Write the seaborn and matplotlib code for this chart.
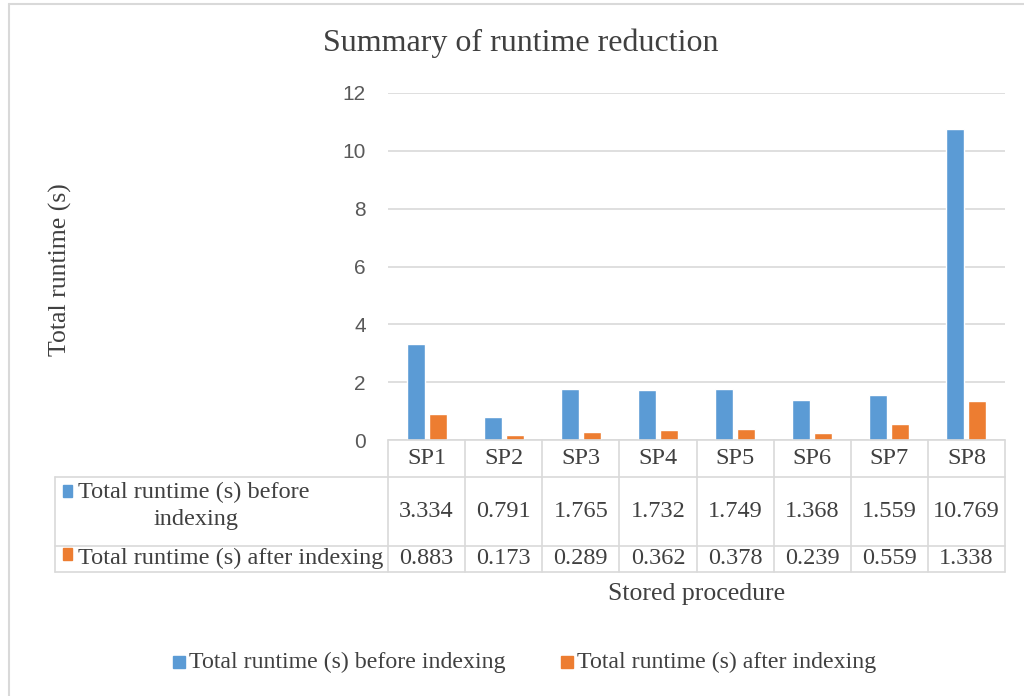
import matplotlib
matplotlib.use("Agg")
import matplotlib.pyplot as plt
import seaborn as sns
import pandas as pd
from matplotlib.lines import Line2D
from matplotlib.patches import Rectangle

categories = ["SP1", "SP2", "SP3", "SP4", "SP5", "SP6", "SP7", "SP8"]
before = [3.334, 0.791, 1.765, 1.732, 1.749, 1.368, 1.559, 10.769]
after = [0.883, 0.173, 0.289, 0.362, 0.378, 0.239, 0.559, 1.338]
series_names = ["Total runtime (s) before indexing", "Total runtime (s) after indexing"]
colors = ["#5B9BD5", "#ED7D31"]
yticks = [0, 2, 4, 6, 8, 10, 12]

sns.set_theme(style="white")
serif = ["Liberation Serif", "DejaVu Serif"]
sans = ["Liberation Sans", "DejaVu Sans"]

df = pd.DataFrame({
    "SP": categories * 2,
    "val": before + after,
    "series": [series_names[0]] * len(categories) + [series_names[1]] * len(categories),
})

W, H = 1024, 696
fig = plt.figure(figsize=(W / 100, H / 100), dpi=100)
L, R, T, B = 388, 1005, 93, 440
ax = fig.add_axes([L / W, 1 - B / H, (R - L) / W, (B - T) / H])

sns.barplot(data=df, x="SP", y="val", hue="series", palette=colors, ax=ax,
            width=0.57, gap=0.18, legend=False, saturation=1)

ax.set_ylim(0, 12)
ax.set_xlim(-0.5, len(categories) - 0.5)
ax.set_yticks(yticks)
ax.set_yticklabels([str(t) for t in yticks], fontfamily=sans, fontsize=15, color="#595959")
ax.tick_params(axis="y", length=0, pad=16)
ax.set_xticks([])
ax.set_xlabel("")
ax.set_ylabel("")
for s in ax.spines.values():
    s.set_visible(False)
ax.yaxis.grid(True, color="#d9d9d9", linewidth=1.2)
ax.set_axisbelow(True)

gc = "#d9d9d9"
def fx(x):
    return x / W
def fy(y):
    return 1 - y / H

tl = 55
rows = [440, 477, 546, 572]
colw = (R - L) / len(categories)
fig.add_artist(Line2D([fx(L), fx(R)], [fy(rows[0])] * 2, color=gc, lw=1.2))
for yy in rows[1:]:
    fig.add_artist(Line2D([fx(tl), fx(R)], [fy(yy)] * 2, color=gc, lw=1.2))
for i in range(len(categories) + 1):
    xx = L + i * colw
    fig.add_artist(Line2D([fx(xx)] * 2, [fy(rows[0]), fy(rows[3])], color=gc, lw=1.2))
fig.add_artist(Line2D([fx(tl)] * 2, [fy(rows[1]), fy(rows[3])], color=gc, lw=1.2))

tc = "#404040"
fs = 17.5
for i, c in enumerate(categories):
    cx = L + (i + 0.5) * colw
    fig.text(fx(cx), fy((rows[0] + rows[1]) / 2), c, ha="center", va="center",
             fontsize=fs, fontfamily=serif, color=tc)
    fig.text(fx(cx), fy((rows[1] + rows[2]) / 2), f"{before[i]:.3f}", ha="center", va="center",
             fontsize=fs, fontfamily=serif, color=tc)
    fig.text(fx(cx), fy((rows[2] + rows[3]) / 2), f"{after[i]:.3f}", ha="center", va="center",
             fontsize=fs, fontfamily=serif, color=tc)

fig.add_artist(Rectangle((fx(63), fy(497)), 9 / W, 12 / H, color=colors[0]))
fig.text(fx(194), fy(492), "Total runtime (s) before", ha="center", va="center",
         fontsize=fs, fontfamily=serif, color=tc)
fig.text(fx(196), fy(519), "indexing", ha="center", va="center",
         fontsize=fs, fontfamily=serif, color=tc)
fig.add_artist(Rectangle((fx(63), fy(560)), 9 / W, 12 / H, color=colors[1]))
fig.text(fx(78), fy(558), "Total runtime (s) after indexing", ha="left", va="center",
         fontsize=fs, fontfamily=serif, color=tc)

fig.text(fx(521), fy(43), "Summary of runtime reduction", ha="center", va="center",
         fontsize=23, fontfamily=serif, color=tc)
fig.text(fx(60), fy(270), "Total runtime (s)", ha="center", va="center", rotation=90,
         fontsize=18.5, fontfamily=serif, color=tc)
fig.text(fx(697), fy(594), "Stored procedure", ha="center", va="center",
         fontsize=18.5, fontfamily=serif, color=tc)

fig.add_artist(Rectangle((fx(173), fy(668)), 12 / W, 12 / H, color=colors[0]))
fig.text(fx(189), fy(662), series_names[0], ha="left", va="center",
         fontsize=17.2, fontfamily=serif, color=tc)
fig.add_artist(Rectangle((fx(561), fy(668)), 12 / W, 12 / H, color=colors[1]))
fig.text(fx(577), fy(662), series_names[1], ha="left", va="center",
         fontsize=17.2, fontfamily=serif, color=tc)

fig.add_artist(Line2D([fx(8.5)] * 2, [fy(4), fy(696)], color="#d9d9d9", lw=1.5))
fig.add_artist(Line2D([fx(8.5), fx(1024)], [fy(4)] * 2, color="#d9d9d9", lw=1.5))

fig.savefig("out.png", dpi=100, facecolor="white")
